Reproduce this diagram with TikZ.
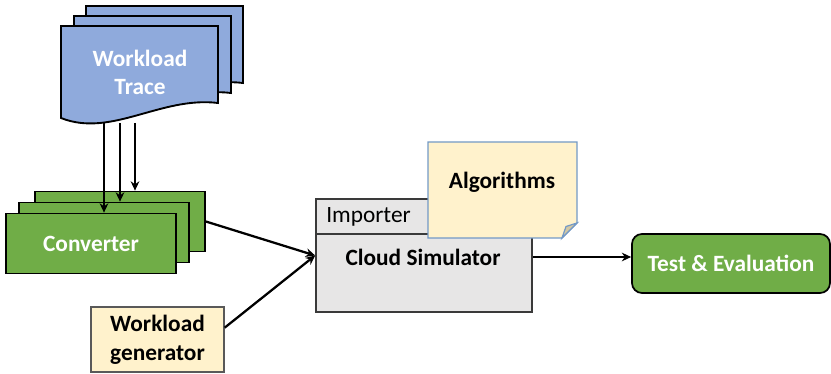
\documentclass[tikz,border=0pt]{standalone}
\usepackage{fontspec}
\setmainfont{Carlito}
\usetikzlibrary{arrows.meta,positioning}
\definecolor{docblue}{HTML}{8FAADC}
\definecolor{convgreen}{HTML}{70AD47}
\definecolor{simgray}{HTML}{E7E6E6}
\definecolor{noteyellow}{HTML}{FFF2CC}
\definecolor{noteedge}{HTML}{7399C6}
\definecolor{notefold}{HTML}{D3C8A4}
\definecolor{genedge}{HTML}{595959}
\definecolor{simedge}{HTML}{3A3A3A}

\tikzset{
  lbl/.style={font=\fontsize{17.5}{21.5}\selectfont\bfseries, align=center},
  sheet/.style={draw=black, line width=1.3pt, fill=convgreen, inner sep=0pt,
    minimum width=127.5pt, minimum height=45pt},
  link/.style={line width=1.7pt, -{Stealth[length=7pt,width=6.5pt]}}
}

\begin{document}
\begin{tikzpicture}[x=0.75pt,y=0.75pt]

% Canvas
\useasboundingbox (0,0) rectangle (831,374);

% ===== WORKLOAD TRACE (three stacked documents) =====
\draw[black,line width=1.4pt,fill=docblue]
  (86,368) -- (243,368) -- (243,291) .. controls (186,298) and (136,256) .. (86,276) -- cycle;
\draw[black,line width=1.4pt,fill=docblue]
  (74,358) -- (231,358) -- (231,281) .. controls (174,288) and (124,246) .. (74,266) -- cycle;
\draw[black,line width=1.4pt,fill=docblue]
  (61,348) -- (218,348) -- (218,271) .. controls (161,278) and (111,236) .. (61,256) -- cycle;
\node[lbl,text=white] (trace) at (140,301.5) {Workload\\Trace};

% ===== CONVERTER (three stacked sheets) =====
\node[sheet] (convC) at (120,152.5) {};
\node[sheet] (convB) at (104,141.5) {};
\node[sheet] (convA) at (91,130.5) {};
\node[lbl,text=white] (convtext) at (convA) {Converter};

% Trace -> converter
\coordinate (t1) at (104,251);
\coordinate (t2) at (120,251);
\coordinate (t3) at (135,251);
\draw[link] (t1) -- (t1 |- convA.north);
\draw[link] (t2) -- (t2 |- convB.north);
\draw[link] (t3) -- (t3 |- convC.north);

% ===== CLOUD SIMULATOR =====
\node[draw=simedge,line width=1.3pt,fill=simgray,inner sep=0pt,
  minimum width=162pt,minimum height=84.75pt] (sim) at (424,118.5) {};
\coordinate (impl) at (316,140);
\draw[simedge,line width=1.3pt] (impl) -- (impl -| sim.east);
\node[anchor=west,inner sep=0pt,font=\fontsize{17.5}{21.5}\selectfont] (importer) at (326,157.5) {Importer};
\node[lbl] (simtext) at (423,117) {Cloud Simulator};

% Algorithms note with folded corner
\draw[noteedge,line width=0.9pt,fill=noteyellow]
  (428,232) -- (577,232) -- (577,151) -- (562,136) -- (428,136) -- cycle;
\draw[noteedge,line width=0.9pt,fill=notefold]
  (562,136) -- (566,147.5) -- (577,151) -- cycle;
\node[lbl] (algo) at (502,192) {Algorithms};

% ===== WORKLOAD GENERATOR =====
\node[draw=genedge,line width=1.1pt,fill=noteyellow,inner sep=0pt,
  minimum width=99.75pt,minimum height=48.75pt] (gen) at (157.5,34.5) {};
\node[lbl] (gentext) at (gen) {Workload\\generator};

% ===== TEST & EVALUATION =====
\node[draw=black,line width=1.3pt,fill=convgreen,rounded corners=7.5pt,inner sep=0pt,
  minimum width=148.5pt,minimum height=44.25pt,lbl,text=white] (test) at (731,110.5) {Test \& Evaluation};

% Connectors
\draw[link] (convC.east) -- (sim.west);
\draw[link] (gen.10) -- (sim.west);
\draw[link] (simtext.east -| sim.east) -- (simtext.east -| test.west);

\end{tikzpicture}
\end{document}
